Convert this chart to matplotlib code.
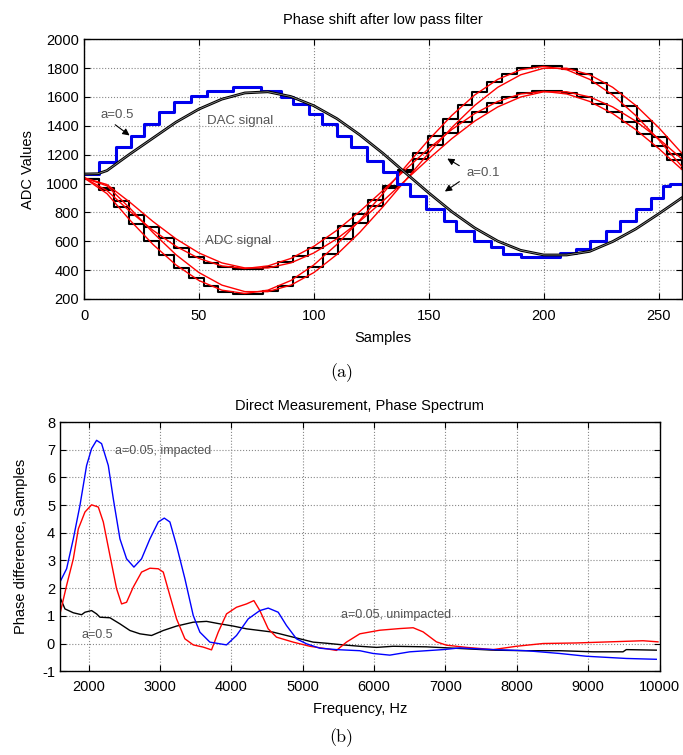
import numpy as np
import matplotlib
matplotlib.use("Agg")
import matplotlib.pyplot as plt

plt.rcParams['font.family'] = ['Liberation Sans', 'DejaVu Sans']
plt.rcParams['axes.unicode_minus'] = False

# ---------------- (a) phase shift after low pass filter ----------------
# DAC output, sample & hold staircase (blue)
blue_x = [0, 6.5, 14, 20.5, 26, 32.5, 39, 46.5, 53.5, 65, 77, 85.5, 91, 98, 103.5, 110,
          116, 123, 130, 136, 142, 149, 156.5, 162, 169.5, 177, 182.5, 190, 207, 214,
          220, 227, 233, 240, 246.5, 252, 255, 260]
blue_v = [1066, 1150, 1250, 1331, 1412, 1493, 1562, 1608, 1643, 1666, 1643, 1597, 1550,
          1481, 1412, 1331, 1250, 1158, 1077, 996, 915, 823, 742, 673, 604, 558, 512,
          489, 520, 543, 604, 673, 742, 823, 903, 984, 1000, 1000]

# DAC signal, smooth (black)
dac_x = [0, 6, 10, 20, 30, 40, 50, 60, 70, 80, 90, 100, 110, 120, 130, 140, 150, 160,
         170, 180, 190, 200, 210, 220, 230, 240, 250, 260]
dac_v = [1066, 1068, 1090, 1205, 1315, 1425, 1516, 1585, 1628, 1636, 1603, 1539, 1450,
         1337, 1210, 1072, 935, 805, 692, 601, 537, 505, 505, 530, 598, 685, 790, 900]

# ADC readings, staircase (black), two amplitudes
adc_x = [0, 6.5, 13, 19.5, 26, 32.5, 39, 45.5, 52, 58.5, 65, 71.5, 78, 84.5, 91, 97.5,
         104, 110.5, 117, 123.5, 130, 136.5, 143, 149.5, 156, 162.5, 169, 175.5, 182,
         188.5, 195, 201.5, 208, 214.5, 221, 227.5, 234, 240.5, 247, 253.5, 260]
adc_big = [1030, 957, 835, 717, 605, 505, 418, 344, 289, 251, 232, 233, 253, 292, 350,
           424, 512, 614, 725, 844, 968, 1093, 1215, 1333, 1445, 1545, 1632, 1706, 1761,
           1799, 1818, 1818, 1797, 1758, 1700, 1626, 1538, 1436, 1325, 1206, 1100]
adc_small = [1030, 972, 877, 784, 698, 620, 551, 494, 451, 421, 407, 407, 423, 453, 499,
             556, 625, 704, 791, 884, 980, 1078, 1173, 1266, 1352, 1430, 1499, 1556,
             1599, 1629, 1643, 1643, 1627, 1597, 1551, 1494, 1425, 1346, 1259, 1166, 1100]

# low pass filtered ADC readings (red)
lp_x = [0, 10, 20, 30, 40, 50, 60, 70, 80, 90, 100, 110, 120, 130, 140, 150, 160, 170,
        180, 190, 200, 210, 220, 230, 240, 250, 260]
lp_big_05 = [1040, 930, 746, 578, 436, 328, 261, 238, 261, 328, 436, 578, 746, 930, 1120,
             1304, 1472, 1614, 1722, 1789, 1812, 1789, 1722, 1614, 1472, 1304, 1120]
lp_small_05 = [1040, 951, 807, 676, 565, 481, 429, 411, 429, 481, 565, 676, 807, 951,
               1099, 1243, 1374, 1485, 1569, 1621, 1639, 1621, 1569, 1485, 1374, 1243, 1099]
lp_big_01 = [1040, 984, 829, 660, 507, 383, 296, 251, 251, 296, 383, 508, 662, 838, 1025,
             1212, 1388, 1542, 1667, 1754, 1799, 1799, 1754, 1667, 1542, 1388, 1212]
lp_small_01 = [1040, 993, 870, 737, 617, 519, 450, 415, 415, 450, 519, 617, 739, 878,
               1025, 1172, 1311, 1433, 1531, 1600, 1636, 1636, 1600, 1531, 1433, 1311, 1172]

# ---------------- (b) phase spectrum ----------------
blue_f = [1600, 1693, 1787, 1880, 1973, 2043, 2113, 2183, 2277, 2347, 2440, 2533, 2636,
          2743, 2860, 2977, 3061, 3140, 3233, 3350, 3467, 3560, 3700, 3933, 4073, 4237,
          4400, 4517, 4657, 4773, 4913, 5053, 5240, 5473, 5800, 5987, 6220, 6500, 6967,
          7200, 7667, 8133, 8600, 8973, 9533, 9953]
blue_p = [2.22, 2.70, 3.78, 4.99, 6.43, 7.04, 7.34, 7.22, 6.43, 5.23, 3.78, 3.06, 2.76,
          3.06, 3.78, 4.39, 4.53, 4.39, 3.54, 2.34, 1.01, 0.41, 0.05, -0.05, 0.29, 0.89,
          1.19, 1.28, 1.13, 0.65, 0.17, -0.01, -0.17, -0.22, -0.26, -0.36, -0.42, -0.30,
          -0.22, -0.16, -0.22, -0.26, -0.36, -0.46, -0.54, -0.57]

red_f = [1600, 1693, 1787, 1857, 1950, 2043, 2137, 2207, 2300, 2393, 2463, 2533, 2627,
         2743, 2860, 2977, 3047, 3140, 3233, 3350, 3467, 3607, 3723, 3817, 3933, 4073,
         4213, 4316, 4400, 4517, 4633, 4867, 5100, 5333, 5473, 5613, 5800, 6080, 6360,
         6547, 6687, 6873, 7013, 7293, 7667, 7993, 8367, 8833, 9300, 9767, 9977]
red_p = [1.07, 2.10, 3.06, 4.14, 4.75, 5.01, 4.93, 4.39, 3.18, 1.98, 1.43, 1.49, 2.04,
         2.58, 2.72, 2.70, 2.58, 1.73, 0.89, 0.17, -0.05, -0.13, -0.23, 0.41, 1.07, 1.31,
         1.43, 1.55, 1.19, 0.53, 0.23, 0.05, -0.10, -0.19, -0.25, 0.05, 0.35, 0.48, 0.54,
         0.57, 0.42, 0.06, -0.06, -0.14, -0.22, -0.10, 0.00, 0.02, 0.06, 0.10, 0.06]

black_f = [1600, 1670, 1787, 1903, 1950, 2043, 2113, 2160, 2300, 2440, 2580, 2720, 2883,
           3047, 3233, 3467, 3653, 3840, 4027, 4213, 4400, 4587, 4773, 4960, 5147, 5333,
           5567, 5800, 6033, 6267, 6733, 7200, 7667, 8133, 8600, 9067, 9487, 9533, 9953]
black_p = [1.67, 1.25, 1.11, 1.04, 1.13, 1.19, 1.07, 0.95, 0.93, 0.71, 0.47, 0.35, 0.29,
           0.47, 0.63, 0.77, 0.80, 0.71, 0.63, 0.53, 0.47, 0.41, 0.29, 0.17, 0.05, 0.01,
           -0.05, -0.10, -0.14, -0.10, -0.12, -0.18, -0.24, -0.26, -0.26, -0.30, -0.30,
           -0.22, -0.24]

txt_gray = '#555555'


def style_axes(ax):
    ax.grid(True, linestyle=':', color='#888888', linewidth=0.8)
    ax.tick_params(direction='in', top=True, right=True, length=4, labelsize=10.5)
    for sp in ax.spines.values():
        sp.set_linewidth(1.0)


fig = plt.figure(figsize=(6.83, 7.55), dpi=100)

# ---- top panel
ax1 = fig.add_axes([0.123, 0.604, 0.875, 0.344])
ax1.step(adc_x, adc_big, where='post', color='black', lw=1.5)
ax1.step(adc_x, adc_small, where='post', color='black', lw=1.5)
ax1.plot(lp_x, lp_big_05, color='red', lw=1.0)
ax1.plot(lp_x, lp_small_05, color='red', lw=1.0)
ax1.plot(lp_x, lp_big_01, color='red', lw=1.0)
ax1.plot(lp_x, lp_small_01, color='red', lw=1.0)
ax1.step(blue_x, blue_v, where='post', color='#0000ee', lw=2.2)
ax1.plot(dac_x, dac_v, color='black', lw=2.0)
ax1.plot(dac_x, dac_v, color='#999999', lw=0.5)

ax1.set_xlim(0, 260)
ax1.set_ylim(200, 2000)
ax1.set_xticks([0, 50, 100, 150, 200, 250])
ax1.set_yticks(np.arange(200, 2001, 200))
style_axes(ax1)
ax1.tick_params(axis='x', pad=7)
ax1.set_xlabel('Samples', fontsize=10.5, labelpad=6)
ax1.set_ylabel('ADC Values', fontsize=10.5, labelpad=8)
ax1.set_title('Phase shift after low pass filter', fontsize=10.5, pad=11)

arrow = dict(arrowstyle='-|>', color='black', lw=0.8, mutation_scale=10)
ax1.annotate('', xy=(20.8, 1322), xytext=(12.6, 1419), arrowprops=arrow)
ax1.text(7, 1474, 'a=0.5', fontsize=9.5, color=txt_gray, va='center')
ax1.text(53.5, 1433, 'DAC signal', fontsize=9.5, color=txt_gray, va='center')
ax1.text(52.6, 602, 'ADC signal', fontsize=9.5, color=txt_gray, va='center')
ax1.annotate('', xy=(157, 1183), xytext=(164.3, 1114), arrowprops=arrow)
ax1.annotate('', xy=(156, 934), xytext=(164.3, 1024), arrowprops=arrow)
ax1.text(166.5, 1073, 'a=0.1', fontsize=9.5, color=txt_gray, va='center')

fig.text(0.5, 1 - 373 / 755, '(a)', fontsize=13, family='cmr10',
         ha='center', va='center')

# ---- bottom panel
ax2 = fig.add_axes([0.0878, 0.111, 0.878, 0.33])
ax2.plot(black_f, black_p, color='black', lw=1.0)
ax2.plot(red_f, red_p, color='red', lw=1.0)
ax2.plot(blue_f, blue_p, color='blue', lw=1.0)
ax2.set_xlim(1600, 10000)
ax2.set_ylim(-1, 8)
ax2.set_xticks(np.arange(2000, 10001, 1000))
ax2.set_yticks(np.arange(-1, 9, 1))
style_axes(ax2)
ax2.tick_params(axis='x', pad=6)
ax2.set_xlabel('Frequency, Hz', fontsize=10.5, labelpad=6)
ax2.set_ylabel('Phase difference, Samples', fontsize=10.5, labelpad=10)
ax2.set_title('Direct Measurement, Phase Spectrum', fontsize=10.5, pad=9)
ax2.text(2370, 6.95, 'a=0.05, impacted', fontsize=9, color=txt_gray, va='center')
ax2.text(1903, 0.30, 'a=0.5', fontsize=9, color=txt_gray, va='center')
ax2.text(5534, 1.02, 'a=0.05, unimpacted', fontsize=9, color=txt_gray, va='center')

fig.text(0.5, 1 - 738 / 755, '(b)', fontsize=13, family='cmr10',
         ha='center', va='center')

fig.savefig('out.png', dpi=100)
